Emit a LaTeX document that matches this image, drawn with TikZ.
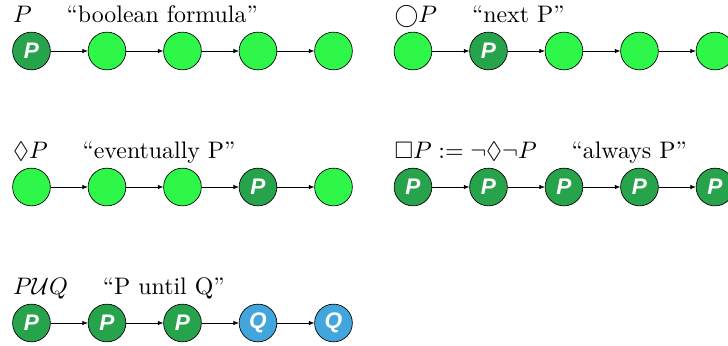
\documentclass[tikz,border=0pt]{standalone}
\usepackage{amssymb}
\usepackage{fontspec}
\usepackage{tikz}
\usetikzlibrary{arrows.meta,positioning}
\newfontfamily\markfont{Liberation Sans}
\definecolor{worldgreen}{HTML}{2EF74A}
\definecolor{holdgreen}{HTML}{27A34B}
\definecolor{holdblue}{HTML}{42A5DC}

\begin{document}
\begin{tikzpicture}[>={Latex[length=4pt,width=3.2pt]},
    world/.style={draw, circle, line width=0.5pt, minimum size=1cm, inner sep=0pt},
    blank/.style={world, fill=worldgreen},
    holdp/.style={world, fill=holdgreen, text=white, font=\markfont\bfseries\itshape\fontsize{17}{20}\selectfont},
    holdq/.style={holdp, fill=holdblue},
    formula/.style={anchor=base west, inner sep=0pt, scale=1.8}]
  \useasboundingbox (0,0) rectangle (19.285,-9.14);

  % P: boolean formula
  \node[formula] (bform) at (0.334,-0.60) {$P$};
  \node[formula, base right=0.9cm of bform] (btext) {``boolean formula''};
  \node[holdp] (b1) at (0.834,-1.351) {P};
  \node[blank] (b2) at (2.834,-1.351) {};
  \node[blank] (b3) at (4.834,-1.351) {};
  \node[blank] (b4) at (6.834,-1.351) {};
  \node[blank] (b5) at (8.834,-1.351) {};
  \draw[->] (b1) -- (b2);
  \draw[->] (b2) -- (b3);
  \draw[->] (b3) -- (b4);
  \draw[->] (b4) -- (b5);

  % next P
  \node[formula] (nform) at (10.44,-0.60) {$\bigcirc P$};
  \node[formula, base right=0.9cm of nform] (ntext) {``next P''};
  \node[blank] (n1) at (10.94,-1.351) {};
  \node[holdp] (n2) at (12.94,-1.351) {P};
  \node[blank] (n3) at (14.94,-1.351) {};
  \node[blank] (n4) at (16.94,-1.351) {};
  \node[blank] (n5) at (18.94,-1.351) {};
  \draw[->] (n1) -- (n2);
  \draw[->] (n2) -- (n3);
  \draw[->] (n3) -- (n4);
  \draw[->] (n4) -- (n5);

  % eventually P
  \node[formula] (eform) at (0.334,-4.20) {$\Diamond P$};
  \node[formula, base right=0.9cm of eform] (etext) {``eventually P''};
  \node[blank] (e1) at (0.834,-4.954) {};
  \node[blank] (e2) at (2.834,-4.954) {};
  \node[blank] (e3) at (4.834,-4.954) {};
  \node[holdp] (e4) at (6.834,-4.954) {P};
  \node[blank] (e5) at (8.834,-4.954) {};
  \draw[->] (e1) -- (e2);
  \draw[->] (e2) -- (e3);
  \draw[->] (e3) -- (e4);
  \draw[->] (e4) -- (e5);

  % always P
  \node[formula] (aform) at (10.44,-4.20) {$\Box P := \neg\Diamond\neg P$};
  \node[formula, base right=0.9cm of aform] (atext) {``always P''};
  \node[holdp] (a1) at (10.94,-4.954) {P};
  \node[holdp] (a2) at (12.94,-4.954) {P};
  \node[holdp] (a3) at (14.94,-4.954) {P};
  \node[holdp] (a4) at (16.94,-4.954) {P};
  \node[holdp] (a5) at (18.94,-4.954) {P};
  \draw[->] (a1) -- (a2);
  \draw[->] (a2) -- (a3);
  \draw[->] (a3) -- (a4);
  \draw[->] (a4) -- (a5);

  % P until Q
  \node[formula] (uform) at (0.334,-7.81) {$P\mathcal{U}Q$};
  \node[formula, base right=0.9cm of uform] (utext) {``P until Q''};
  \node[holdp] (u1) at (0.834,-8.556) {P};
  \node[holdp] (u2) at (2.834,-8.556) {P};
  \node[holdp] (u3) at (4.834,-8.556) {P};
  \node[holdq] (u4) at (6.834,-8.556) {Q};
  \node[holdq] (u5) at (8.834,-8.556) {Q};
  \draw[->] (u1) -- (u2);
  \draw[->] (u2) -- (u3);
  \draw[->] (u3) -- (u4);
  \draw[->] (u4) -- (u5);
\end{tikzpicture}
\end{document}
